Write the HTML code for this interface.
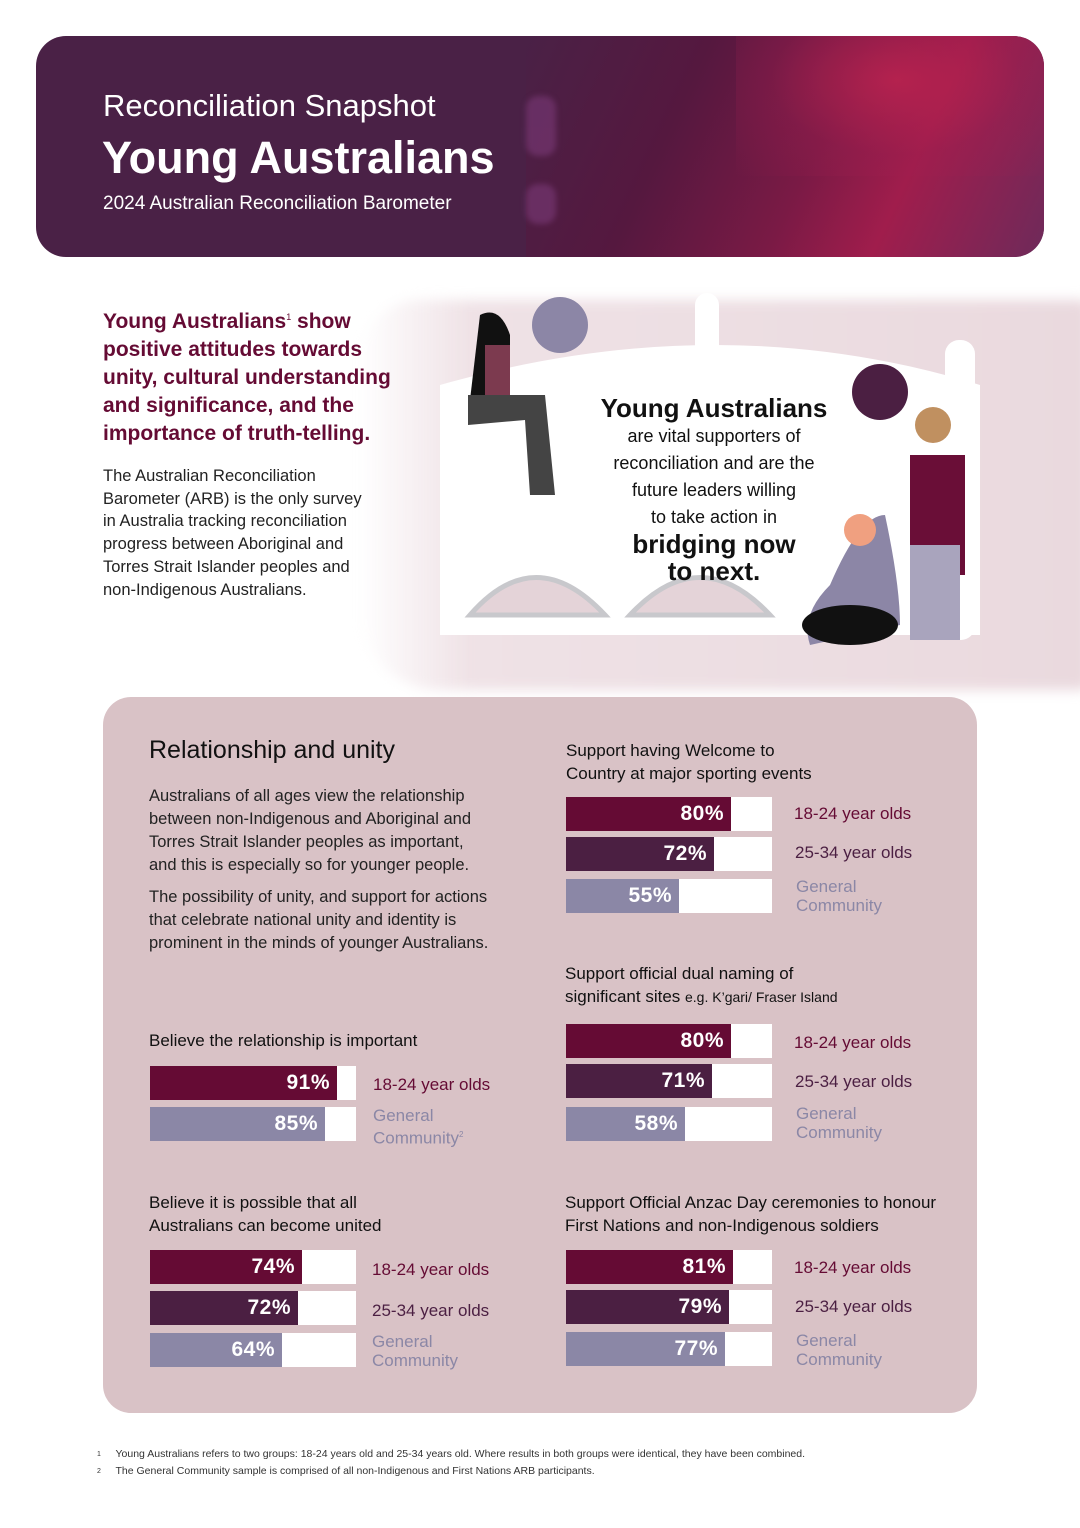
<!DOCTYPE html>
<html><head><meta charset="utf-8"><style>
*{margin:0;padding:0;box-sizing:border-box}
body{width:1080px;height:1528px;background:#fff;position:relative;overflow:hidden;font-family:"Liberation Sans",sans-serif}
.a{position:absolute}
.bar{position:absolute;width:206px;height:34px;background:#fff}
.bar div{height:34px;color:#fff;font-weight:bold;font-size:21px;text-align:right;padding-right:7px;line-height:34px;letter-spacing:0.5px}
.r{background:#650b34}.p{background:#4b1f42}.l{background:#8b87a6}
.lab{position:absolute;font-size:17px;line-height:19px}
.lr{color:#650b34}.lp{color:#4b1f42}.ll{color:#8b87a6}
.h{position:absolute;font-size:17px;color:#111;line-height:23px}
.t{position:absolute;font-size:16.5px;color:#222;line-height:23px}
</style></head><body>
<!-- header -->
<div class="a" style="left:36px;top:36px;width:1008px;height:221px;border-radius:30px;overflow:hidden;background:#4a2146">
<div class="a" style="left:490px;top:0;width:518px;height:221px;background:linear-gradient(115deg,#4a2146 0%,#55183f 30%,#7a1a45 55%,#a01d4c 72%,#6e2a5a 100%)"></div>
<div class="a" style="left:700px;top:-20px;width:320px;height:160px;background:radial-gradient(ellipse at 50% 40%,rgba(190,35,80,0.8) 0%,rgba(160,30,80,0.3) 55%,rgba(0,0,0,0) 100%)"></div>
<div class="a" style="left:490px;top:60px;width:30px;height:60px;background:#7b3a78;opacity:.6;border-radius:12px;filter:blur(3px)"></div>
<div class="a" style="left:490px;top:148px;width:30px;height:40px;background:#7b3a78;opacity:.6;border-radius:12px;filter:blur(3px)"></div>
</div>
<div class="a" style="left:103px;top:88px;color:#fff;font-size:31px">Reconciliation Snapshot</div>
<div class="a" style="left:102px;top:132px;color:#fff;font-size:45px;font-weight:bold">Young Australians</div>
<div class="a" style="left:103px;top:193px;color:#fff;font-size:19px">2024 Australian Reconciliation Barometer</div>

<!-- illustration bg -->
<div class="a" style="left:360px;top:300px;width:730px;height:390px;background:linear-gradient(90deg,rgba(236,221,226,0) 0%,#efe2e6 15%,#ead9de 100%);border-radius:60px 10px 10px 80px;filter:blur(6px)"></div>

<!-- intro -->
<div class="a" style="left:103px;top:303px;color:#650b34;font-size:21px;font-weight:bold;line-height:28px">Young Australians<sup style="font-size:9px;font-weight:normal">1</sup> show<br>positive attitudes towards<br>unity, cultural understanding<br>and significance, and the<br>importance of truth-telling.</div>
<div class="t" style="left:103px;top:465px;font-size:16.5px;line-height:22.7px">The Australian Reconciliation<br>Barometer (ARB) is the only survey<br>in Australia tracking reconciliation<br>progress between Aboriginal and<br>Torres Strait Islander peoples and<br>non-Indigenous Australians.</div>

<svg class="a" style="left:440px;top:285px" width="560" height="400">
<path d="M0 100 Q280 20 540 100 L540 350 L0 350 Z" fill="#fff"/>
<rect x="255" y="8" width="24" height="100" rx="12" fill="#fff"/>
<rect x="505" y="55" width="30" height="300" rx="14" fill="#fff"/>
<path d="M30 330 Q95 255 165 330 Z" fill="#e4d3d8" stroke="#c8c8cc" stroke-width="5"/>
<path d="M190 330 Q260 255 330 330 Z" fill="#e4d3d8" stroke="#c8c8cc" stroke-width="5"/>
<circle cx="120" cy="40" r="28" fill="#8c86a6"/>
<circle cx="440" cy="107" r="28" fill="#4b1f42"/>
<path d="M40 30 Q60 20 70 50 L70 110 L30 115 Z" fill="#111"/>
<rect x="45" y="60" width="25" height="50" fill="#7c3a4f"/>
<path d="M28 110 L105 110 L115 210 L90 210 L85 135 L28 140 Z" fill="#444"/>
<path d="M390 300 Q420 230 445 230 Q460 300 460 340 L370 360 Q360 330 390 300Z" fill="#8c86a6"/>
<ellipse cx="410" cy="340" rx="48" ry="20" fill="#111"/>
<rect x="470" y="170" width="55" height="120" fill="#6a0e37"/>
<rect x="470" y="260" width="50" height="95" fill="#a9a4bd"/>
<circle cx="493" cy="140" r="18" fill="#c09060"/>
<circle cx="420" cy="245" r="16" fill="#f0a080"/>
</svg>
<div class="a" style="left:580px;top:393px;width:268px;text-align:center;font-size:18px;line-height:27px;color:#111">
<div style="font-size:26px;font-weight:bold;line-height:30px">Young Australians</div>
are vital supporters of<br>reconciliation and are the<br>future leaders willing<br>to take action in
<div style="font-size:26px;font-weight:bold;line-height:27px">bridging now<br>to next.</div></div>

<!-- panel -->
<div class="a" style="left:103px;top:697px;width:874px;height:716px;background:#d9c2c6;border-radius:28px"></div>
<div class="a" style="left:149px;top:736px;font-size:25px;color:#111">Relationship and unity</div>
<div class="t" style="left:149px;top:785px">Australians of all ages view the relationship<br>between non-Indigenous and Aboriginal and<br>Torres Strait Islander peoples as important,<br>and this is especially so for younger people.</div>
<div class="t" style="left:149px;top:886px">The possibility of unity, and support for actions<br>that celebrate national unity and identity is<br>prominent in the minds of younger Australians.</div>

<div class="h" style="left:149px;top:1029px">Believe the relationship is important</div>
<div class="bar" style="left:150px;top:1066px"><div class="r" style="width:187px">91%</div></div>
<div class="bar" style="left:150px;top:1107px"><div class="l" style="width:175px">85%</div></div>
<div class="lab lr" style="left:373px;top:1075px">18-24 year olds</div>
<div class="lab ll" style="left:373px;top:1106px">General<br>Community<sup style="font-size:8px">2</sup></div>

<div class="h" style="left:149px;top:1191px">Believe it is possible that all<br>Australians can become united</div>
<div class="bar" style="left:150px;top:1250px"><div class="r" style="width:152px">74%</div></div>
<div class="bar" style="left:150px;top:1291px"><div class="p" style="width:148px">72%</div></div>
<div class="bar" style="left:150px;top:1333px"><div class="l" style="width:132px">64%</div></div>
<div class="lab lr" style="left:372px;top:1260px">18-24 year olds</div>
<div class="lab lp" style="left:372px;top:1301px">25-34 year olds</div>
<div class="lab ll" style="left:372px;top:1332px">General<br>Community</div>

<div class="h" style="left:566px;top:739px">Support having Welcome to<br>Country at major sporting events</div>
<div class="bar" style="left:566px;top:797px"><div class="r" style="width:165px">80%</div></div>
<div class="bar" style="left:566px;top:837px"><div class="p" style="width:148px">72%</div></div>
<div class="bar" style="left:566px;top:879px"><div class="l" style="width:113px">55%</div></div>
<div class="lab lr" style="left:794px;top:804px">18-24 year olds</div>
<div class="lab lp" style="left:795px;top:843px">25-34 year olds</div>
<div class="lab ll" style="left:796px;top:877px">General<br>Community</div>

<div class="h" style="left:565px;top:962px">Support official dual naming of<br>significant sites <span style="font-size:14px">e.g. K’gari/ Fraser Island</span></div>
<div class="bar" style="left:566px;top:1024px"><div class="r" style="width:165px">80%</div></div>
<div class="bar" style="left:566px;top:1064px"><div class="p" style="width:146px">71%</div></div>
<div class="bar" style="left:566px;top:1107px"><div class="l" style="width:119px">58%</div></div>
<div class="lab lr" style="left:794px;top:1033px">18-24 year olds</div>
<div class="lab lp" style="left:795px;top:1072px">25-34 year olds</div>
<div class="lab ll" style="left:796px;top:1104px">General<br>Community</div>

<div class="h" style="left:565px;top:1191px">Support Official Anzac Day ceremonies to honour<br>First Nations and non-Indigenous soldiers</div>
<div class="bar" style="left:566px;top:1250px"><div class="r" style="width:167px">81%</div></div>
<div class="bar" style="left:566px;top:1290px"><div class="p" style="width:163px">79%</div></div>
<div class="bar" style="left:566px;top:1332px"><div class="l" style="width:159px">77%</div></div>
<div class="lab lr" style="left:794px;top:1258px">18-24 year olds</div>
<div class="lab lp" style="left:795px;top:1297px">25-34 year olds</div>
<div class="lab ll" style="left:796px;top:1331px">General<br>Community</div>

<div class="a" style="left:97px;top:1446px;font-size:10.5px;color:#333;line-height:17px">
<span style="font-size:7px;vertical-align:top">1</span>&nbsp;&nbsp;&nbsp;&nbsp;&nbsp;Young Australians refers to two groups: 18-24 years old and 25-34 years old. Where results in both groups were identical, they have been combined.<br>
<span style="font-size:7px;vertical-align:top">2</span>&nbsp;&nbsp;&nbsp;&nbsp;&nbsp;The General Community sample is comprised of all non-Indigenous and First Nations ARB participants.</div>
</body></html>
